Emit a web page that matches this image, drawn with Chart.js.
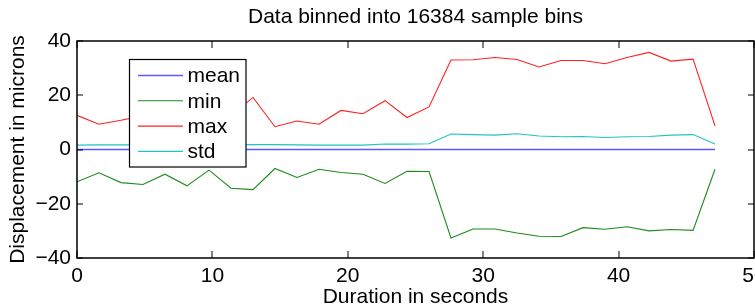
<!DOCTYPE html>
<html><head><meta charset="utf-8">
<script src="https://cdn.jsdelivr.net/npm/chart.js@4/dist/chart.umd.min.js"></script>
<style>
html,body{margin:0;padding:0;background:#fff;overflow:hidden;width:755px;height:307px}
#wrap{width:800px;height:307px;position:relative}
canvas{display:block}
</style></head><body><div id="wrap"><canvas id="c" width="800" height="307"></canvas></div>
<script>
// ---- data ----
const times = [0, 1.62, 3.25, 4.87, 6.5, 8.12, 9.75, 11.37, 13.0, 14.62, 16.25, 17.87, 19.5, 21.12, 22.75,
  24.37, 26.0, 27.62, 29.25, 30.87, 32.5, 34.12, 35.75, 37.37, 39.0, 40.62, 42.25, 43.87, 45.5, 47.12];
const meanValues = [0.02, 0.01, 0.02, 0.01, 0.0, 0.02, 0.01, 0.0, 0.02, 0.01, 0.0, 0.02, 0.01, 0.0, 0.01,
  0.02, 0.01, 0.02, 0.0, -0.01, 0.0, 0.01, 0.02, 0.01, 0.0, 0.01, 0.02, 0.01, 0.0, 0.01];
const minValues = [-11.9, -8.6, -12.2, -12.9, -9.1, -13.4, -7.6, -14.3, -14.8, -7.0, -10.3, -7.3, -8.5, -9.1, -12.5,
  -8.0, -8.1, -32.6, -29.3, -29.3, -30.8, -32.0, -32.1, -28.8, -29.4, -28.5, -30.0, -29.5, -29.8, -7.3];
const maxValues = [12.6, 9.3, 10.8, 12.4, 14.5, 11.5, 15.0, 12.6, 19.2, 8.4, 10.5, 9.3, 14.4, 13.2, 18.0,
  11.8, 15.7, 33.0, 33.1, 33.9, 33.2, 30.4, 32.8, 32.8, 31.6, 33.9, 35.8, 32.6, 33.3, 8.7];
const stdValues = [1.6, 1.7, 1.7, 1.7, 1.8, 1.7, 1.8, 1.7, 1.8, 1.8, 1.7, 1.6, 1.6, 1.6, 2.0,
  2.0, 2.1, 5.7, 5.5, 5.3, 5.8, 5.0, 4.7, 4.8, 4.4, 4.7, 4.8, 5.3, 5.5, 2.0];
const seriesNames = ['mean', 'min', 'max', 'std'];
const seriesColors = ['#5a5aff', '#1a8c1a', '#ff2020', '#20c4c4'];
const xTickValues = [0, 10, 20, 30, 40, 50];
const yTickValues = [-40, -20, 0, 20, 40];
const titleText = 'Data binned into 16384 sample bins';
const xTitle = 'Duration in seconds';
const yTitle = 'Displacement in microns';

// ---- chart ----
const FONT = '"Liberation Sans", Arial, Helvetica, sans-serif';
Chart.defaults.font.family = FONT;
Chart.defaults.font.size = 21;
Chart.defaults.color = '#000';

const fmt = v => v < 0 ? '\u2212' + Math.abs(v) : String(v);
const allSeries = [meanValues, minValues, maxValues, stdValues];

const framePlugin = {
  id: 'frame',
  afterDatasetsDraw(chart) {
    const ctx = chart.ctx;
    const a = chart.chartArea;
    const xs = chart.scales.x, ys = chart.scales.y;
    ctx.save();
    // inward tick marks
    ctx.strokeStyle = '#000';
    ctx.lineWidth = 1;
    ctx.beginPath();
    xs.ticks.forEach(t => {
      const px = Math.round(xs.getPixelForValue(t.value));
      ctx.moveTo(px, a.bottom); ctx.lineTo(px, a.bottom - 7);
      ctx.moveTo(px, a.top); ctx.lineTo(px, a.top + 7);
    });
    ys.ticks.forEach(t => {
      const py = Math.round(ys.getPixelForValue(t.value));
      ctx.moveTo(a.left, py); ctx.lineTo(a.left + 6, py);
      ctx.moveTo(a.right, py); ctx.lineTo(a.right - 6, py);
    });
    ctx.stroke();
    // box
    ctx.lineWidth = 1.5;
    ctx.strokeRect(a.left, a.top, a.right - a.left, a.bottom - a.top);
    // legend
    const lx = 129.5, ly = 59.5, lw = 116.5, lh = 107.5;
    ctx.fillStyle = '#fff';
    ctx.fillRect(lx, ly, lw, lh);
    ctx.lineWidth = 1.2;
    ctx.strokeStyle = '#000';
    ctx.strokeRect(lx, ly, lw, lh);
    ctx.font = '21px ' + FONT;
    ctx.textBaseline = 'middle';
    ctx.textAlign = 'left';
    chart.data.datasets.forEach((ds, i) => {
      const y = 75.5 + i * 25.3;
      ctx.strokeStyle = ds.borderColor;
      ctx.lineWidth = ds.borderWidth;
      ctx.beginPath();
      ctx.moveTo(138, y); ctx.lineTo(183, y);
      ctx.stroke();
      ctx.fillStyle = '#000';
      ctx.fillText(ds.label, 187.5, y + 1);
    });
    ctx.restore();
  }
};

new Chart(document.getElementById('c'), {
  type: 'line',
  data: {
    datasets: allSeries.map((vals, k) => ({
      label: seriesNames[k],
      data: times.map((t, i) => ({ x: t, y: vals[i] })),
      borderColor: seriesColors[k],
      borderWidth: k === 0 ? 1.4 : 1.1,
      pointRadius: 0,
      fill: false,
      tension: 0
    }))
  },
  options: {
    responsive: false,
    animation: false,
    devicePixelRatio: 1,
    layout: { padding: { left: 0, right: 46, top: 0, bottom: 0 } },
    plugins: {
      legend: { display: false },
      tooltip: { enabled: false },
      title: {
        display: true, text: titleText, fullSize: false, color: '#000',
        font: { size: 21, weight: 'normal' },
        padding: { top: 5, bottom: 10.8 }
      }
    },
    scales: {
      x: {
        type: 'linear', min: 0, max: 50,
        afterBuildTicks: s => { s.ticks = xTickValues.map(v => ({ value: v })); },
        grid: { display: false, drawTicks: false },
        border: { display: false },
        ticks: { padding: 6, maxRotation: 0, autoSkip: false, callback: v => fmt(v), color: '#000' },
        title: { display: true, text: xTitle, color: '#000', font: { size: 21, lineHeight: 0.9 }, padding: 0 },
        afterFit: s => { s.height = 49; }
      },
      y: {
        type: 'linear', min: -40, max: 40,
        afterBuildTicks: s => { s.ticks = yTickValues.map(v => ({ value: v })); },
        grid: { display: false, drawTicks: false },
        border: { display: false },
        ticks: { padding: 6, autoSkip: false, callback: v => fmt(v), color: '#000' },
        title: { display: true, text: yTitle, color: '#000', font: { size: 21 }, padding: { top: 6, bottom: 0 } },
        afterFit: s => { s.width = 77; }
      }
    }
  },
  plugins: [framePlugin]
});
</script>
</body></html>
